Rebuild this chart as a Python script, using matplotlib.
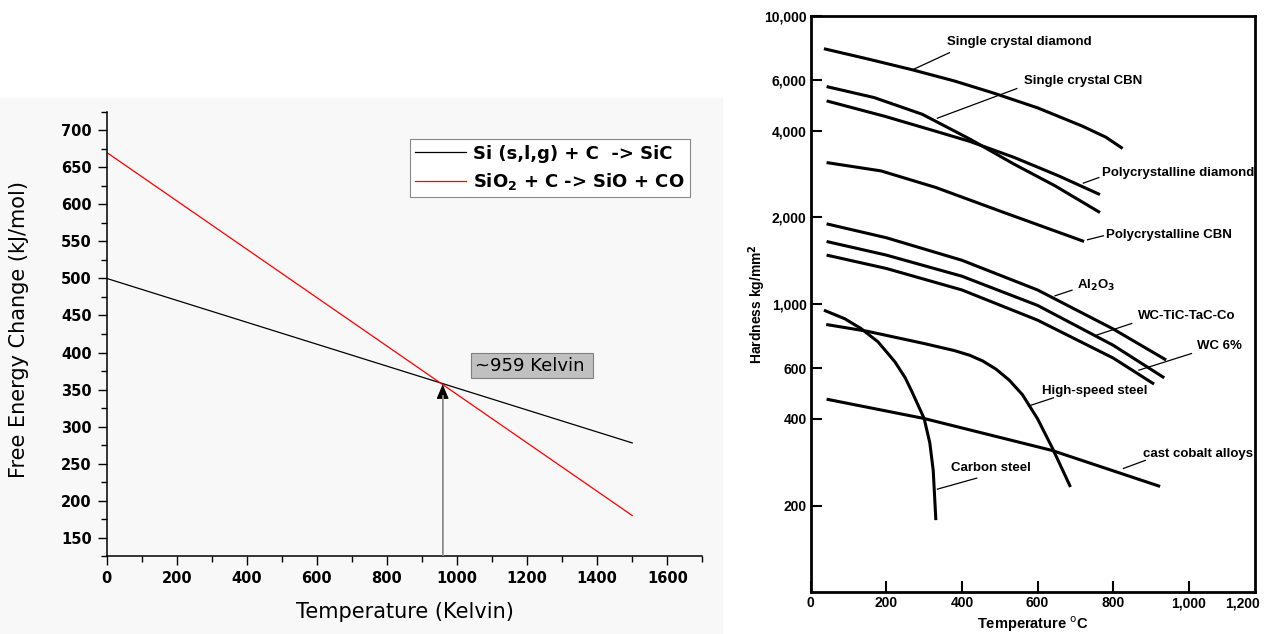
import matplotlib.pyplot as plt
from matplotlib.ticker import MultipleLocator, NullLocator
from matplotlib.patches import Rectangle

# left chart: free energy change vs temperature
temp_k = [0, 1500]
sic_energy = [500, 278]
sio_energy = [670, 180]
cross_t = 959
cross_e = 357

# right chart: hardness vs temperature
diamond_t = [35, 150, 270, 380, 484, 600, 718, 780, 825]
diamond_h = [7700, 7100, 6500, 5950, 5400, 4800, 4150, 3800, 3470]
sc_cbn_t = [42, 168, 295, 421, 538, 646, 765]
sc_cbn_h = [5690, 5210, 4560, 3740, 3060, 2575, 2080]
pc_diamond_t = [42, 195, 331, 421, 538, 655, 765]
pc_diamond_h = [5075, 4490, 3980, 3670, 3230, 2790, 2400]
pc_cbn_t = [42, 186, 331, 511, 723]
pc_cbn_h = [3100, 2900, 2540, 2080, 1650]
al2o3_t = [42, 200, 400, 600, 800, 940]
al2o3_h = [1900, 1700, 1420, 1120, 820, 640]
wctic_t = [42, 200, 400, 600, 800, 935]
wctic_h = [1650, 1480, 1250, 990, 720, 555]
wc6_t = [42, 200, 400, 600, 800, 908]
wc6_h = [1480, 1330, 1120, 880, 650, 528]
hss_t = [41, 150, 300, 380, 420, 455, 490, 525, 560, 600, 640, 687]
hss_h = [850, 805, 730, 690, 665, 635, 595, 545, 485, 400, 315, 232]
carbon_t = [35, 90, 133, 178, 223, 250, 268, 300, 315, 324, 331]
carbon_h = [953, 890, 823, 740, 630, 555, 496, 401, 330, 265, 178]
cobalt_t = [42, 300, 637, 924]
cobalt_h = [468, 401, 311, 233]

hard_ticks = [200, 400, 600, 1000, 2000, 4000, 6000, 10000]
hard_labels = ['200', '400', '600', '1,000', '2,000', '4,000', '6,000', '10,000']
temp_c_ticks = [0, 200, 400, 600, 800, 1000]
temp_c_labels = ['0', '200', '400', '600', '800', '1,000']

fig = plt.figure(figsize=(12.66, 6.34), dpi=100)
fig.add_artist(Rectangle((0, 0), 722 / 1266, 536 / 634, transform=fig.transFigure,
                         color='#f8f8f8', zorder=-1))

# ---- left chart ----
ax1 = fig.add_axes([106.7 / 1266, 77.7 / 634, 595.6 / 1266, 444.6 / 634])
ax1.set_facecolor('none')
ax1.plot(temp_k, sic_energy, color='black', lw=0.9, label='Si (s,l,g) + C  -> SiC')
ax1.plot(temp_k, sio_energy, color='red', lw=0.9, label=r'SiO$_\mathbf{2}$ + C -> SiO + CO')

ax1.annotate('', xy=(cross_t, cross_e), xytext=(cross_t, 125),
             arrowprops=dict(arrowstyle='-|>,head_length=0.9,head_width=0.38',
                             color='black', lw=0.8, shrinkA=0, shrinkB=0))
ax1.plot([cross_t, cross_t], [125, 342], color='#a0a0a0', lw=1.2, zorder=6)
ax1.text(1050, 382, '~959 Kelvin ', va='center', ha='left', fontsize=13,
         family='DejaVu Sans',
         bbox=dict(boxstyle='square,pad=0.2', fc='#c0c0c0', ec='#808080', lw=0.8))

ax1.set_xticks(range(0, 1601, 200))
ax1.xaxis.set_minor_locator(MultipleLocator(100))
ax1.yaxis.set_major_locator(MultipleLocator(50))
ax1.yaxis.set_minor_locator(MultipleLocator(25))
ax1.set_xlim(0, 1700)
ax1.set_ylim(125, 725)
ax1.tick_params(which='major', direction='out', length=6.8, width=1, pad=4, labelsize=10.5)
ax1.tick_params(which='minor', direction='out', length=4, width=1)
for lab in ax1.get_xticklabels() + ax1.get_yticklabels():
    lab.set_fontweight('bold')
    lab.set_family('DejaVu Sans')
ax1.spines['top'].set_visible(False)
ax1.spines['right'].set_visible(False)
ax1.spines['left'].set_linewidth(1.1)
ax1.spines['bottom'].set_linewidth(1.1)
ax1.set_xlabel('Temperature (Kelvin)', fontsize=15, family='DejaVu Sans')
ax1.set_ylabel('Free Energy Change (kJ/mol)', fontsize=15, family='DejaVu Sans')
ax1.xaxis.set_label_coords(0.5, -0.103)
ax1.yaxis.set_label_coords(-0.13, 0.51)

leg = ax1.legend(loc='upper left', bbox_to_anchor=(410 / 1266, 1 - 139.3 / 634),
                 bbox_transform=fig.transFigure, borderaxespad=0, fancybox=False,
                 edgecolor='#888888', framealpha=1, facecolor='white',
                 prop={'family': 'DejaVu Sans', 'weight': 'bold', 'size': 13},
                 handlelength=2.8, handletextpad=0.4, borderpad=0.3, labelspacing=0.45)
leg.get_frame().set_linewidth(0.8)

# ---- right chart ----
ax2 = fig.add_axes([810.7 / 1266, 41.7 / 634, 444.3 / 1266, 576.3 / 634])
ax2.set_yscale('log')
for t, h in [(diamond_t, diamond_h), (sc_cbn_t, sc_cbn_h), (pc_diamond_t, pc_diamond_h),
             (pc_cbn_t, pc_cbn_h), (al2o3_t, al2o3_h), (wctic_t, wctic_h),
             (wc6_t, wc6_h), (hss_t, hss_h), (carbon_t, carbon_h), (cobalt_t, cobalt_h)]:
    ax2.plot(t, h, color='black', lw=2.2, solid_capstyle='butt', solid_joinstyle='round')

ax2.set_xlim(0, 1175)
ax2.set_ylim(100, 10000)
ax2.set_yticks(hard_ticks)
ax2.set_yticklabels(hard_labels)
ax2.yaxis.set_minor_locator(NullLocator())
ax2.set_xticks(temp_c_ticks)
ax2.set_xticklabels(temp_c_labels)
ax2.tick_params(direction='in', length=8, width=1.5, pad=3, labelsize=10)
for lab in ax2.get_xticklabels() + ax2.get_yticklabels():
    lab.set_fontweight('bold')
    lab.set_family('Liberation Sans')
ax2.annotate('1,200', xy=(1141, 0), xycoords=ax2.get_xaxis_transform(),
             xytext=(0, -3), textcoords='offset points', ha='center', va='top',
             fontsize=10, fontweight='bold', family='Liberation Sans')
for s in ax2.spines.values():
    s.set_linewidth(2)

ax2.set_ylabel(r'Hardness kg/mm$^\mathbf{2}$', fontsize=10, fontweight='bold', family='Liberation Sans')
ax2.set_xlabel(r'Temperature $^\mathrm{o}$C', fontsize=10.5, fontweight='bold', family='Liberation Sans')
ax2.yaxis.set_label_coords(-0.097, 0.5)
ax2.xaxis.set_label_coords(0.5, -0.038)

# curve labels and their pointer lines
labels = [
    ('Single crystal diamond', 361, 8130, [367, 272], [7460, 6530]),
    ('Single crystal CBN', 565, 5950, [545, 335], [5600, 4420]),
    ('Polycrystalline diamond', 770, 2860, [762, 721], [2750, 2630]),
    ('Polycrystalline CBN', 782, 1736, [774, 732], [1727, 1673]),
    (r'Al$_\mathbf{2}$O$_\mathbf{3}$', 705, 1164, [691, 646], [1118, 1069]),
    ('WC-TiC-TaC-Co', 865, 911, [849, 755], [857, 780]),
    ('WC 6%', 1021, 717, [1007, 868], [674, 590]),
    ('High-speed steel', 612, 499, [642, 576], [473, 443]),
    ('cast cobalt alloys', 880, 303, [885, 827], [287, 269]),
    ('Carbon steel', 370, 269, [439, 335], [249, 228]),
]
for txt, tx, ty, px, py in labels:
    ax2.text(tx, ty, txt, ha='left', va='center', fontsize=9.5, fontweight='bold',
             family='Liberation Sans')
    ax2.plot(px, py, color='black', lw=0.9)

fig.savefig('out.png', dpi=100)
